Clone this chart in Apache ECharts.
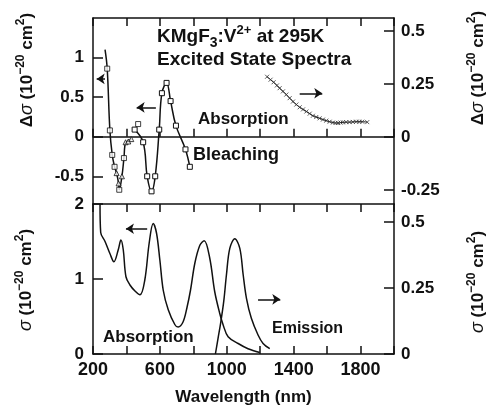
<!DOCTYPE html>
<html>
<head>
<meta charset="utf-8">
<script src="https://cdn.jsdelivr.net/npm/echarts@6/dist/echarts.min.js"></script>
<style>
html,body{margin:0;padding:0;background:#fff}
#main{width:488px;height:408px}
</style>
</head>
<body>
<div id="main"></div>
<script>
// excited state spectra, top panel, left scale (open squares / triangles)
var bleachA = [[285,0.86],[301,0.08],[315,-0.23],[329,-0.38],[341,-0.46],[353,-0.59],[357,-0.67],[373,-0.5],[385,-0.27],[395,-0.07],[411,-0.06],[429,-0.03]];
var bleachAStart = [272,1.1];
var bleachB = [[449,0.09],[500,-0.07],[524,-0.5],[550,-0.69],[572,-0.5],[596,0.09],[612,0.55],[640,0.68],[664,0.45],[696,0.14],[753,-0.16],[779,-0.38]];
var bleachStray = [[470,0.16]];
var triIdx = [4,5,7,9,10,11];
// top panel, right scale (crosses)
var esaIR = [[1241,0.284],[1262,0.27],[1280,0.258],[1300,0.243],[1316,0.23],[1336,0.215],[1356,0.2],[1376,0.183],[1396,0.167],[1416,0.153],[1436,0.14],[1456,0.13],[1476,0.12],[1496,0.11],[1515,0.1],[1535,0.094],[1555,0.088],[1575,0.082],[1595,0.077],[1615,0.072],[1635,0.068],[1650,0.066],[1665,0.066],[1680,0.068],[1694,0.069],[1714,0.07],[1734,0.07],[1754,0.071],[1774,0.072],[1792,0.072],[1810,0.072],[1840,0.07]];
// bottom panel: ground state absorption (left) and emission (right)
var absorption = [[242,2.0],[246,1.62],[272,1.5],[301,1.34],[325,1.23],[351,1.39],[367,1.52],[381,1.39],[397,1.03],[421,0.92],[451,0.84],[481,0.79],[510,0.99],[536,1.48],[560,1.74],[580,1.61],[600,1.25],[620,0.85],[650,0.59],[690,0.39],[709,0.36],[739,0.43],[763,0.63],[783,0.85],[809,1.21],[839,1.45],[865,1.51],[898,1.28],[928,0.83],[958,0.54],[978,0.39],[1008,0.23],[1068,0.14],[1127,0.07],[1197,0.02]];
var emission = [[932,0.0],[948,0.06],[964,0.12],[982,0.2],[998,0.3],[1018,0.4],[1048,0.436],[1078,0.4],[1098,0.3],[1118,0.21],[1147,0.135],[1187,0.072],[1217,0.04],[1257,0.02]];
// tick labels
var wlLabels = [200,600,1000,1400,1800];
var topLeftTicks = [-0.5,0,0.5,1];
var topRightTicks = [-0.25,0,0.25,0.5];
var botLeftTicks = [0,1,2];
var botRightTicks = [0,0.25,0.5];

var FONT = '"Liberation Sans", Arial, sans-serif';
var INK = '#111';
var chart = echarts.init(document.getElementById('main'));

var lineSt = {color: INK, width: 1.5};
var tickSt = {inside: true, length: 8, lineStyle: {color: INK, width: 1.5}};
var lblSt = {color: INK, fontSize: 17, fontWeight: 'bold', fontFamily: FONT};

function xAx(grid, pos, showLbl, onZero) {
	return {
		type: 'value', gridIndex: grid, position: pos, min: 200, max: 2000, interval: 200,
		axisLine: {show: true, onZero: onZero, lineStyle: lineSt},
		axisTick: tickSt,
		axisLabel: showLbl ? Object.assign({margin: 7, formatter: function(v){ return wlLabels.indexOf(v) >= 0 ? v : ''; }}, lblSt, {fontSize: 18}) : {show: false},
		splitLine: {show: false}
	};
}
function yAx(grid, pos, min, max, ticks, margin) {
	return {
		type: 'value', gridIndex: grid, position: pos, min: min, max: max,
		axisLine: {show: true, onZero: false, lineStyle: lineSt},
		axisTick: {inside: true, length: 10, customValues: ticks, lineStyle: {color: INK, width: 1.5}},
		axisLabel: Object.assign({margin: margin, customValues: ticks}, lblSt),
		splitLine: {show: false}
	};
}
function rich(sz) {
	return {
		t: {fontSize: sz, fontWeight: 'bold', fontFamily: FONT, color: INK, lineHeight: sz + 8, verticalAlign: 'middle'},
		i: {fontSize: sz + 1, fontStyle: 'italic', fontFamily: FONT, color: INK, lineHeight: sz + 8, verticalAlign: 'middle'},
		sup: {fontSize: Math.round(sz * 0.68), fontWeight: 'bold', fontFamily: FONT, color: INK, verticalAlign: 'top', lineHeight: sz + 6},
		sub: {fontSize: Math.round(sz * 0.72), fontWeight: 'bold', fontFamily: FONT, color: INK, verticalAlign: 'bottom', lineHeight: sz + 4}
	};
}
function txt(x, y, s, sz, rot, align) {
	return {
		type: 'text', x: x, y: y, rotation: rot || 0, silent: true,
		style: {text: s, rich: rich(sz), align: align || 'left', verticalAlign: 'middle', fill: INK,
			font: 'bold ' + sz + 'px ' + FONT}
	};
}
var sigName = '{t|(10}{sup|−20}{t| cm}{sup|2}{t|)}';
function arrow(x1, x2, y) {
	return [{coord: [x1, y]}, {coord: [x2, y]}];
}
var arrowMark = function(list) {
	return {
		silent: true, symbol: ['none', 'arrow'], symbolSize: 8, animation: false,
		label: {show: false}, lineStyle: {color: INK, width: 1.5, type: 'solid'},
		data: list
	};
};

var option = {
	animation: false,
	grid: [
		{left: 93, right: 94, top: 18, height: 186},
		{left: 93, right: 94, top: 204, height: 150}
	],
	xAxis: [
		xAx(0, 'top', false, false),
		xAx(0, 'bottom', false, true),
		xAx(1, 'top', false, false),
		Object.assign(xAx(1, 'bottom', true, false), {
			name: 'Wavelength (nm)', nameLocation: 'middle', nameGap: 35,
			nameTextStyle: {color: INK, fontSize: 17, fontWeight: 'bold', fontFamily: FONT}
		})
	],
	yAxis: [
		yAx(0, 'left', -0.85, 1.5, topLeftTicks, 9),
		yAx(0, 'right', -0.316, 0.561, topRightTicks, 7),
		yAx(1, 'left', 0, 2, botLeftTicks, 9),
		yAx(1, 'right', 0, 0.568, botRightTicks, 7)
	],
	graphic: [
		txt(157, 37, '{t|KMgF}{sub|3}{t|:V}{sup|2+}{t| at 295K}', 19),
		txt(157, 60, '{t|Excited State Spectra}', 19),
		txt(198, 119, '{t|Absorption}', 17),
		txt(193, 155, '{t|Bleaching}', 18),
		txt(103, 337, '{t|Absorption}', 17),
		txt(272, 329, '{t|Emission}', 16),
		txt(27, 70, '{t|Δ}{i|σ}{t| }' + sigName, 17, Math.PI / 2, 'center'),
		txt(478, 68, '{t|Δ}{i|σ}{t| }' + sigName, 17, Math.PI / 2, 'center'),
		txt(26, 280, '{i|σ}{t| }' + sigName, 17, Math.PI / 2, 'center'),
		txt(478, 282, '{i|σ}{t| }' + sigName, 17, Math.PI / 2, 'center')
	],
	series: [
		{
			type: 'line', xAxisIndex: 0, yAxisIndex: 0, smooth: 0.4,
			data: [bleachAStart].concat(bleachA),
			showSymbol: false, lineStyle: lineSt, z: 3,
			markLine: arrowMark([arrow(272, 222, 0.73), arrow(576, 461, 0.37)])
		},
		{
			type: 'scatter', xAxisIndex: 0, yAxisIndex: 0, symbolSize: 5, z: 4,
			data: bleachA.map(function(p, i){
				return {value: p, symbol: triIdx.indexOf(i) >= 0 ? 'triangle' : 'rect'};
			}),
			itemStyle: {color: '#fff', borderColor: INK, borderWidth: 1}
		},
		{
			type: 'line', xAxisIndex: 0, yAxisIndex: 0, smooth: 0.4,
			data: bleachB, symbol: 'rect', symbolSize: 5, showSymbol: true,
			lineStyle: lineSt, itemStyle: {color: '#fff', borderColor: INK, borderWidth: 1}, z: 3
		},
		{
			type: 'scatter', xAxisIndex: 0, yAxisIndex: 0, symbol: 'rect', symbolSize: 5,
			data: bleachStray, itemStyle: {color: '#fff', borderColor: INK, borderWidth: 1}
		},
		{
			type: 'line', xAxisIndex: 0, yAxisIndex: 1, smooth: 0.3,
			data: esaIR, symbol: 'path://M0,0L10,10M10,0L0,10', symbolSize: 4, showSymbol: true,
			lineStyle: {color: INK, width: 1}, itemStyle: {color: 'transparent', borderColor: '#333', borderWidth: 0.8},
			markLine: arrowMark([arrow(1436, 1571, 0.206)])
		},
		{
			type: 'line', xAxisIndex: 3, yAxisIndex: 2, smooth: 0.35,
			data: absorption, showSymbol: false, lineStyle: lineSt,
			markLine: arrowMark([arrow(524, 397, 1.67)])
		},
		{
			type: 'line', xAxisIndex: 3, yAxisIndex: 3, smooth: 0.35,
			data: emission, showSymbol: false, lineStyle: lineSt,
			markLine: arrowMark([arrow(1187, 1320, 0.207)])
		}
	]
};
chart.setOption(option);
</script>
</body>
</html>
